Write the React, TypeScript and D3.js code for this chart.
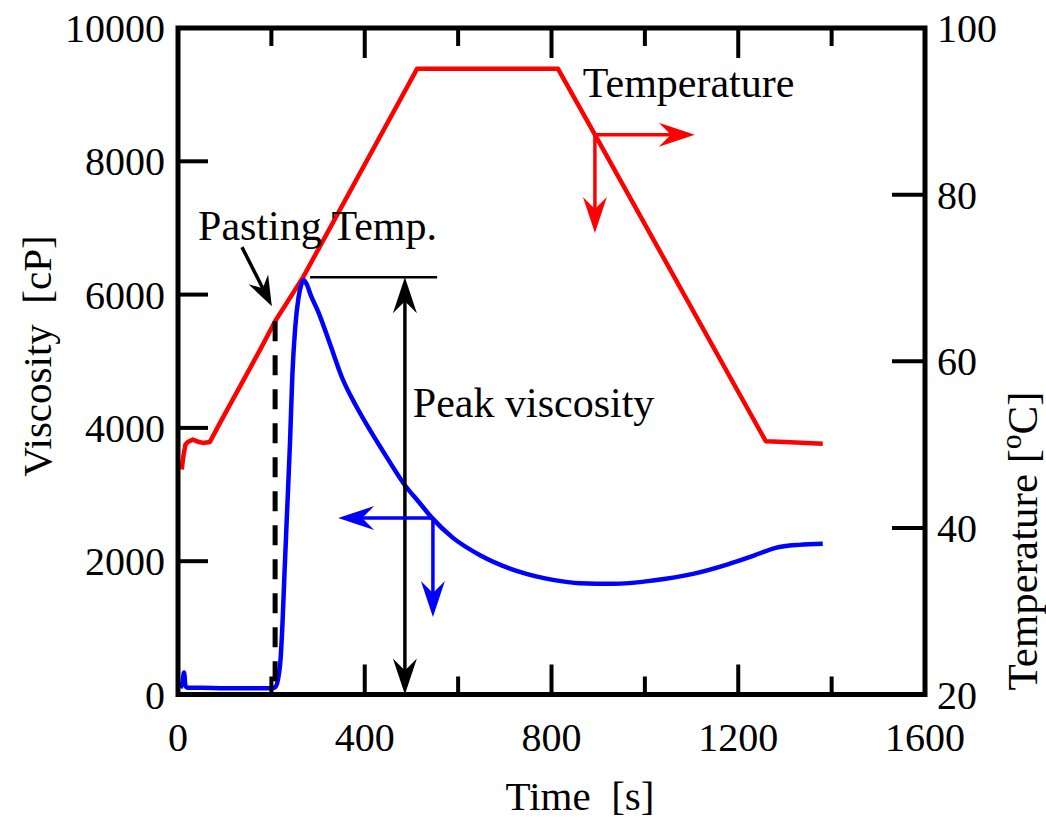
import React from "react";
import * as d3 from "d3";

// ---- data ----
const TIME_MAJOR_TICKS = [0, 400, 800, 1200, 1600];
const TIME_MINOR_TICKS = [200, 600, 1000, 1400];
const VISC_TICKS = [0, 2000, 4000, 6000, 8000, 10000];
const TEMP_TICKS = [20, 40, 60, 80, 100];

const tempTime = [8, 12, 16, 21, 32, 45, 54, 68, 90, 176, 208, 268, 512, 600, 700, 814, 893, 1259, 1300, 1381];
const tempValue = [47.0, 48.8, 50.0, 50.3, 50.6, 50.3, 50.2, 50.3, 52.6, 61.4, 64.8, 70.1, 95.1, 95.1, 95.1, 95.1, 87.2, 50.4, 50.3, 50.1];

const viscTime = [5, 9, 13, 16, 20, 50, 100, 150, 200, 208, 214, 220, 224, 228, 234, 240, 245, 251, 258, 264, 269, 276, 285, 300, 326, 351, 383, 411, 448, 486, 518, 544, 589, 647, 732, 803, 861, 932, 1017, 1103, 1176, 1232, 1280, 1330, 1381];
const viscValue = [100, 160, 330, 130, 100, 100, 95, 95, 95, 110, 220, 560, 1100, 1800, 2800, 3800, 4800, 5500, 5950, 6150, 6220, 6150, 5980, 5750, 5250, 4760, 4310, 3970, 3550, 3140, 2870, 2650, 2350, 2090, 1840, 1720, 1670, 1660, 1710, 1810, 1950, 2080, 2200, 2245, 2260];

// annotation values (data units)
const PEAK_VISC = 6260;
const PEAK_LINE_TIME = [283, 555];
const PEAK_ARROW_TIME = 486;
const PASTING_TIME = 208;
const PASTING_TEMP = 64.8;
const PASTING_ARROW = { t0: 137, v0: 6712, t1: 201, v1: 5827 };
const VISC_ARROW = { t: 546, v: 2647, tLeft: 343, vDown: 1162 };
const TEMP_ARROW = { t: 893, T: 87.2, tRight: 1107, TDown: 75.4 };

const FONT = "'Liberation Serif', 'Times New Roman', serif";

function arrowHead(tx: number, ty: number, angle: number, L = 36, W = 12, notch = 24) {
  const c = Math.cos(angle), s = Math.sin(angle);
  const pt = (a: number, b: number) => [tx + a * c - b * s, ty + a * s + b * c];
  const p1 = pt(-L, -W);
  const p2 = pt(-notch, 0);
  const p3 = pt(-L, W);
  return `M${tx},${ty}L${p1[0]},${p1[1]}L${p2[0]},${p2[1]}L${p3[0]},${p3[1]}Z`;
}

export default function App() {
  const x = d3.scaleLinear().domain([0, 1600]).range([178, 925]);
  const yL = d3.scaleLinear().domain([0, 10000]).range([694.5, 28]);
  const yR = d3.scaleLinear().domain([20, 100]).range([694.5, 28]);

  const tempLine = d3
    .line<number>()
    .x((_, i) => x(tempTime[i]))
    .y((d) => yR(d))
    .curve(d3.curveLinear);
  const viscLine = d3
    .line<number>()
    .x((_, i) => x(viscTime[i]))
    .y((d) => yL(d))
    .curve(d3.curveMonotoneX);

  const x0 = x(0), x1 = x(1600), y0 = yL(0), y1 = yL(10000);
  const MAJ = 30, MIN = 18;

  const va = VISC_ARROW;
  const ta = TEMP_ARROW;

  return (
    <svg width={1046} height={822} style={{ position: "absolute", left: 0, top: 0, background: "#fff" }} fontFamily={FONT}>
      {/* data lines */}
      <path d={tempLine(tempValue) || ""} fill="none" stroke="#ff0000" strokeWidth={4.5} strokeLinejoin="round" />
      <path d={viscLine(viscValue) || ""} fill="none" stroke="#0000ff" strokeWidth={4.5} strokeLinejoin="round" />

      {/* pasting temperature dashed line */}
      <line x1={x(PASTING_TIME)} x2={x(PASTING_TIME)} y1={yR(PASTING_TEMP)} y2={y0} stroke="#000" strokeWidth={5} strokeDasharray="20,14" />
      {/* pasting arrow */}
      {(() => {
        const ax0 = x(PASTING_ARROW.t0), ay0 = yL(PASTING_ARROW.v0), ax1 = x(PASTING_ARROW.t1), ay1 = yL(PASTING_ARROW.v1);
        const ang = Math.atan2(ay1 - ay0, ax1 - ax0);
        return (
          <g>
            <line x1={ax0} y1={ay0} x2={ax1 - 20 * Math.cos(ang)} y2={ay1 - 20 * Math.sin(ang)} stroke="#000" strokeWidth={3.5} />
            <path d={arrowHead(ax1, ay1, ang, 30, 11, 20)} fill="#000" />
          </g>
        );
      })()}

      {/* peak viscosity line and double arrow */}
      <line x1={x(PEAK_LINE_TIME[0])} x2={x(PEAK_LINE_TIME[1])} y1={yL(PEAK_VISC)} y2={yL(PEAK_VISC)} stroke="#000" strokeWidth={2.5} />
      <line x1={x(PEAK_ARROW_TIME)} x2={x(PEAK_ARROW_TIME)} y1={yL(PEAK_VISC) + 20} y2={y0 - 20} stroke="#000" strokeWidth={3.5} />
      <path d={arrowHead(x(PEAK_ARROW_TIME), yL(PEAK_VISC), -Math.PI / 2)} fill="#000" />
      <path d={arrowHead(x(PEAK_ARROW_TIME), y0, Math.PI / 2)} fill="#000" />

      {/* viscosity axis arrows (blue) */}
      <line x1={x(va.t)} y1={yL(va.v)} x2={x(va.tLeft) + 20} y2={yL(va.v)} stroke="#0000ff" strokeWidth={3.5} />
      <line x1={x(va.t)} y1={yL(va.v)} x2={x(va.t)} y2={yL(va.vDown) - 20} stroke="#0000ff" strokeWidth={3.5} />
      <path d={arrowHead(x(va.tLeft), yL(va.v), Math.PI)} fill="#0000ff" />
      <path d={arrowHead(x(va.t), yL(va.vDown), Math.PI / 2)} fill="#0000ff" />

      {/* temperature axis arrows (red) */}
      <line x1={x(ta.t)} y1={yR(ta.T)} x2={x(ta.tRight) - 20} y2={yR(ta.T)} stroke="#ff0000" strokeWidth={3.5} />
      <line x1={x(ta.t)} y1={yR(ta.T)} x2={x(ta.t)} y2={yR(ta.TDown) - 20} stroke="#ff0000" strokeWidth={3.5} />
      <path d={arrowHead(x(ta.tRight), yR(ta.T), 0)} fill="#ff0000" />
      <path d={arrowHead(x(ta.t), yR(ta.TDown), Math.PI / 2)} fill="#ff0000" />

      {/* frame */}
      <rect x={x0} y={y1} width={x1 - x0} height={y0 - y1} fill="none" stroke="#000" strokeWidth={5} />

      {/* x ticks bottom & top */}
      {TIME_MAJOR_TICKS.map((t) => (
        <g key={"xm" + t}>
          <line x1={x(t)} x2={x(t)} y1={y0} y2={y0 - MAJ} stroke="#000" strokeWidth={4} />
          <line x1={x(t)} x2={x(t)} y1={y1} y2={y1 + MAJ} stroke="#000" strokeWidth={4} />
          <text x={x(t)} y={751} fontSize={40} textAnchor="middle">{t}</text>
        </g>
      ))}
      {TIME_MINOR_TICKS.map((t) => (
        <g key={"xn" + t}>
          <line x1={x(t)} x2={x(t)} y1={y0} y2={y0 - MIN} stroke="#000" strokeWidth={4} />
          <line x1={x(t)} x2={x(t)} y1={y1} y2={y1 + MIN} stroke="#000" strokeWidth={4} />
        </g>
      ))}
      {/* left ticks */}
      {VISC_TICKS.map((v) => (
        <g key={"yl" + v}>
          <line x1={x0} x2={x0 + MAJ} y1={yL(v)} y2={yL(v)} stroke="#000" strokeWidth={4} />
          <text x={165} y={yL(v) + 14} fontSize={40} textAnchor="end">{v}</text>
        </g>
      ))}
      {/* right ticks */}
      {TEMP_TICKS.map((v) => (
        <g key={"yr" + v}>
          <line x1={x1} x2={x1 - MAJ - 3} y1={yR(v)} y2={yR(v)} stroke="#000" strokeWidth={4} />
          <text x={937} y={yR(v) + 14} fontSize={40} textAnchor="start">{v}</text>
        </g>
      ))}

      {/* axis titles */}
      <text x={580} y={810} fontSize={41} textAnchor="middle" style={{ whiteSpace: "pre" }}>{"Time  [s]"}</text>
      <text transform="translate(51,356) rotate(-90)" fontSize={41} textAnchor="middle" style={{ whiteSpace: "pre" }}>{"Viscosity  [cP]"}</text>
      <text transform="translate(1037,541) rotate(-90)" fontSize={43} textAnchor="middle" style={{ whiteSpace: "pre" }}>
        <tspan>{"Temperature ["}</tspan>
        <tspan fontSize={29} dy={-16}>o</tspan>
        <tspan dy={16}>{"C]"}</tspan>
      </text>

      {/* annotations */}
      <text x={x(867)} y={yR(91.7)} fontSize={42}>Temperature</text>
      <text x={x(43)} y={yL(6817)} fontSize={42}>Pasting Temp.</text>
      <text x={x(503)} y={yL(4162)} fontSize={42}>Peak viscosity</text>
    </svg>
  );
}
